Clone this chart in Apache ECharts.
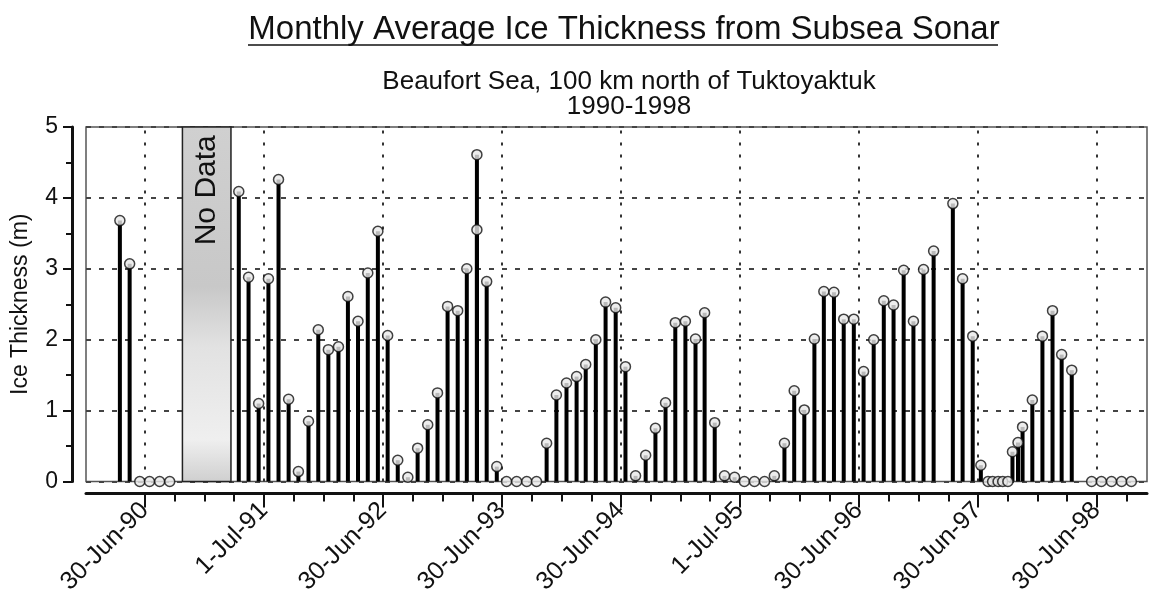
<!DOCTYPE html>
<html>
<head>
<meta charset="utf-8">
<script src="https://cdn.jsdelivr.net/npm/echarts@6/dist/echarts.min.js"></script>
<style>
html,body{margin:0;padding:0;background:#fff;}
#chart{width:1152px;height:592px;}
</style>
</head>
<body>
<div id="chart"></div>
<script>
// ---- Data ----
const sampleDates = [
  '1990-04-15','1990-05-15','1990-06-15','1990-07-15','1990-08-15','1990-09-15',
  '1991-04-15','1991-05-15','1991-06-15','1991-07-15','1991-08-15','1991-09-15','1991-10-15','1991-11-15','1991-12-15',
  '1992-01-15','1992-02-15','1992-03-15','1992-04-15','1992-05-15','1992-06-15','1992-07-15','1992-08-15','1992-09-15','1992-10-15','1992-11-15','1992-12-15',
  '1993-01-15','1993-02-15','1993-03-15','1993-04-15','1993-04-15','1993-05-15','1993-06-15','1993-07-15','1993-08-15','1993-09-15','1993-10-15','1993-11-15','1993-12-15',
  '1994-01-15','1994-02-15','1994-03-15','1994-04-15','1994-05-15','1994-06-15','1994-07-15','1994-08-15','1994-09-15','1994-10-15','1994-11-15','1994-12-15',
  '1995-01-15','1995-02-15','1995-03-15','1995-04-15','1995-05-15','1995-06-15','1995-07-15','1995-08-15','1995-09-15','1995-10-15','1995-11-15','1995-12-15',
  '1996-01-15','1996-02-15','1996-03-15','1996-04-15','1996-05-15','1996-06-15','1996-07-15','1996-08-15','1996-09-15','1996-10-15','1996-11-15','1996-12-15',
  '1997-01-15','1997-02-15','1997-04-15','1997-05-15','1997-06-15','1997-07-10','1997-08-01','1997-08-15','1997-09-01','1997-09-15','1997-10-01','1997-10-15','1997-11-01','1997-11-15','1997-12-15',
  '1998-01-15','1998-02-15','1998-03-15','1998-04-15','1998-06-15','1998-07-15','1998-08-15','1998-09-15','1998-10-15'
];
const iceThickness = [
  3.68, 3.07, 0, 0, 0, 0,
  4.09, 2.88, 1.10, 2.86, 4.26, 1.16, 0.14, 0.85, 2.14,
  1.86, 1.90, 2.61, 2.26, 2.94, 3.53, 2.06, 0.30, 0.06, 0.47, 0.80, 1.25,
  2.47, 2.41, 3.00, 4.61, 3.55, 2.82, 0.21, 0, 0, 0, 0, 0.54, 1.22,
  1.39, 1.48, 1.65, 2.00, 2.53, 2.45, 1.62, 0.08, 0.37, 0.75, 1.11, 2.24,
  2.26, 2.01, 2.38, 0.83, 0.08, 0.06, 0, 0, 0, 0.08, 0.54, 1.28,
  1.01, 2.01, 2.68, 2.67, 2.29, 2.29, 1.55, 2.00, 2.55, 2.49, 2.98, 2.26,
  2.99, 3.25, 3.92, 2.86, 2.05, 0.23, 0, 0, 0, 0, 0, 0.42, 0.55, 0.77, 1.15,
  2.05, 2.41, 1.79, 1.57, 0, 0, 0, 0, 0
];
const majorTickDates = ['1990-06-30','1991-07-01','1992-06-30','1993-06-30','1994-06-30','1995-07-01','1996-06-30','1997-06-30','1998-06-30'];
const majorTickLabels = ['30-Jun-90','1-Jul-91','30-Jun-92','30-Jun-93','30-Jun-94','1-Jul-95','30-Jun-96','30-Jun-97','30-Jun-98'];
const noDataRange = ['1990-10-24','1991-03-22'];
const axisRange = ['1990-01-01','1998-12-02'];
const titleText = 'Monthly Average Ice Thickness from Subsea Sonar';
const subtitleText = 'Beaufort Sea, 100 km north of Tuktoyaktuk\n1990-1998';
const yAxisTitle = 'Ice Thickness (m)';
const noDataText = 'No Data';

// ---- Build ----
const ts = d => Date.parse(d + 'T00:00:00Z');
const points = sampleDates.map((d, i) => [ts(d), iceThickness[i]]);
const majorTs = majorTickDates.map(ts);
// quarterly minor ticks (axis layout)
const minorTs = [];
for (let y = 1990; y <= 1998; y++) {
  for (const m of [1, 4, 7, 10]) {
    const t = Date.UTC(y, m - 1, 1);
    if (t >= Date.UTC(1990, 6, 1) && t <= Date.UTC(1998, 9, 1)) minorTs.push(t);
  }
}
const FONT = '"Liberation Sans", Arial, sans-serif';
const INK = '#111';

const chart = echarts.init(document.getElementById('chart'), null, {renderer: 'canvas'});
chart.setOption({
  backgroundColor: '#fff',
  animation: false,
  title: [
    {text: titleText, left: 619, top: 8, textAlign: 'center',
     textStyle: {fontFamily: FONT, fontSize: 33, fontWeight: 'normal', color: INK}},
    {text: subtitleText, left: 624, top: 64, textAlign: 'center',
     textStyle: {fontFamily: FONT, fontSize: 26, fontWeight: 'normal', color: INK, lineHeight: 25}}
  ],
  graphic: [
    {type: 'line', shape: {x1: 248, y1: 45, x2: 998, y2: 45}, style: {stroke: INK, lineWidth: 1.5}, silent: true}
  ],
  grid: {left: 86, right: 5, top: 127, bottom: 110.5, show: true, borderColor: '#555', borderWidth: 1.5,
         backgroundColor: 'transparent', outerBoundsMode: 'none', containLabel: false},
  xAxis: [
    {type: 'value', min: ts(axisRange[0]), max: ts(axisRange[1]), position: 'bottom', offset: 12,
     axisLine: {show: true, onZero: false, lineStyle: {color: INK, width: 3}},
     axisTick: {show: true, customValues: minorTs, length: 8, lineStyle: {color: INK, width: 2}},
     axisLabel: {show: true, customValues: majorTs, rotate: 45, margin: 13,
       fontFamily: FONT, fontSize: 25, color: INK,
       formatter: v => { const i = majorTs.indexOf(v); return i >= 0 ? majorTickLabels[i] : ''; }},
     splitLine: {show: false}},
    {type: 'value', min: ts(axisRange[0]), max: ts(axisRange[1]), position: 'bottom', offset: 12,
     axisLine: {show: false, onZero: false},
     axisTick: {show: true, customValues: majorTs, length: 14, lineStyle: {color: INK, width: 2}},
     axisLabel: {show: false},
     splitLine: {show: false}}
  ],
  yAxis: {
    type: 'value', min: 0, max: 5, interval: 1, offset: 14,
    name: yAxisTitle, nameLocation: 'middle', nameRotate: 90, nameGap: 40,
    nameTextStyle: {fontFamily: FONT, fontSize: 23, color: INK},
    axisLine: {show: true, lineStyle: {color: INK, width: 3}},
    axisTick: {show: true, length: 9, lineStyle: {color: INK, width: 2}},
    minorTick: {show: true, splitNumber: 2, length: 6, lineStyle: {color: INK, width: 2}},
    axisLabel: {margin: 14, fontFamily: FONT, fontSize: 23, color: INK},
    splitLine: {show: true, lineStyle: {color: '#444', width: 2, type: [5, 8]}}
  },
  series: [
    {
      type: 'bar', xAxisIndex: 0, data: points, barWidth: 4, z: 3,
      itemStyle: {color: '#000'},
      markArea: {
        silent: true, z: 1,
        itemStyle: {
          color: {type: 'linear', x: 0, y: 0, x2: 0, y2: 1, colorStops: [
            {offset: 0, color: '#d0d0d0'}, {offset: 0.45, color: '#c8c8c8'},
            {offset: 0.62, color: '#e2e2e2'}, {offset: 0.88, color: '#efefef'}, {offset: 1, color: '#cfcfcf'}]},
          borderColor: '#222', borderWidth: 1.5
        },
        label: {show: true, formatter: noDataText, position: 'insideTop', distance: 13, rotate: 90,
          align: 'right', verticalAlign: 'middle', offset: [4, 0],
          fontFamily: FONT, fontSize: 30, color: INK},
        data: [[{xAxis: ts(noDataRange[0])}, {xAxis: ts(noDataRange[1])}]]
      },
      markLine: {
        silent: true, symbol: 'none', z: 2,
        label: {show: false},
        lineStyle: {color: '#333', width: 2, type: [3, 9]},
        data: majorTs.map(t => ({xAxis: t}))
      }
    },
    {
      type: 'scatter', xAxisIndex: 0, data: points, symbol: 'circle', symbolSize: 10, z: 4,
      itemStyle: {color: '#e8e8e8', borderColor: '#111', borderWidth: 1.5}
    }
  ]
});
</script>
</body>
</html>
